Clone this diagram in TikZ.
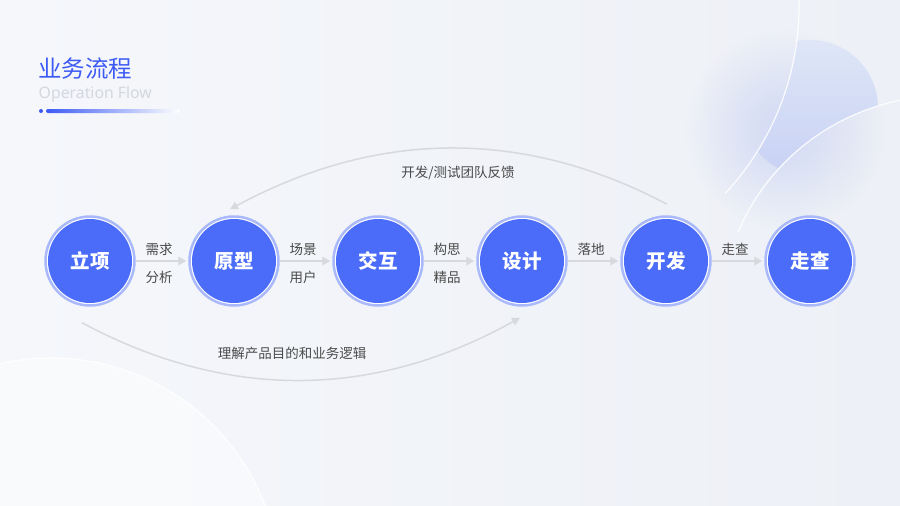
\documentclass[tikz,border=0pt]{standalone}
\usepackage{fontspec}
\setmainfont{Noto Sans}
\newfontfamily\cjk{Noto Sans CJK SC}
\usetikzlibrary{arrows.meta,calc,fadings}
\tikzfading[name=myglow, inner color=transparent!0, outer color=transparent!100]
\definecolor{bgA}{HTML}{F5F7FB}
\definecolor{bgB}{HTML}{EDF0F6}
\definecolor{titleblue}{HTML}{3D5BF4}
\definecolor{subgray}{HTML}{D4D7DD}
\definecolor{nodeblue}{HTML}{4A6CF8}
\definecolor{ringblue}{HTML}{A9B9FB}
\definecolor{textgray}{HTML}{4A4A4A}
\definecolor{arrowgray}{HTML}{D8D9DD}
\definecolor{glowblue}{HTML}{C9D2F3}
\definecolor{circTop}{HTML}{DEE6F7}
\definecolor{circBot}{HTML}{C8D1F4}
\begin{document}
\begin{tikzpicture}[x=1pt,y=-1pt,
  stepnode/.style={circle, minimum size=89, inner sep=0, draw=ringblue, line width=2.5,
    fill=white,
    path picture={\fill[nodeblue] (path picture bounding box.center) circle (42);},
    text=white, font=\cjk\bfseries\fontsize{19.5}{20}\selectfont},
  edgelabel/.style={inner sep=0, text=textgray, font=\cjk\fontsize{13.5}{14}\selectfont},
  flowarrow/.style={draw=arrowgray, line width=2, shorten >=2,
    -{Triangle[length=8,width=8.5]}},
  curvearrow/.style={draw=arrowgray, line width=1.5,
    -{Triangle[length=8,width=8]}},
]
\useasboundingbox (0,0) rectangle (900,506);
\shade[left color=bgA, right color=bgB] (0,0) rectangle (900,506);

% bottom-left decorative circle
\begin{scope}
  \clip (0,0) rectangle (900,506);
  \fill[white, opacity=0.45] (51,587) circle (229);
  \draw[white, line width=1.2, opacity=0.9] (51,587) circle (229);
\end{scope}

% top-right decoration
\fill[glowblue, opacity=0.8, path fading=myglow] (785,130) circle (100);
\begin{scope}[even odd rule]
  \clip (-10,-10) rectangle (910,516) (524,6) circle (275);
  \clip (-10,-10) rectangle (910,516) (944,320) circle (224);
  \shade[top color=circTop, bottom color=circBot] (810,108) circle (68);
\end{scope}
\draw[white, line width=1.2, opacity=0.9] (524,6) ++(-10:275) arc[start angle=-10, end angle=43, radius=275];
\draw[white, line width=1.2, opacity=0.9] (944,320) ++(203:224) arc[start angle=203, end angle=272, radius=224];

% title
\node[anchor=base west, inner sep=0, text=titleblue, font=\cjk\fontsize{23.5}{26}\selectfont] (title) at (38,77.5) {业务流程};
\node[anchor=base west, inner sep=0, text=subgray, font=\fontsize{15.8}{18}\selectfont] (sub) at (38.5,98) {Operation Flow};
\fill[titleblue] (41,111) circle (2);
\shade[left color=titleblue, right color=white, rounded corners=2] (46,109) rectangle (180,113);

% nodes
\node[stepnode] (n1) at (90,261) {立项};
\node[stepnode] (n2) at (234,261) {原型};
\node[stepnode] (n3) at (378,261) {交互};
\node[stepnode] (n4) at (522,261) {设计};
\node[stepnode] (n5) at (666,261) {开发};
\node[stepnode] (n6) at (810,261) {走查};

% straight connectors
\draw[flowarrow] (n1) -- node[edgelabel, midway, xshift=-3, yshift=12] (t1a) {需求}
  node[edgelabel, midway, xshift=-3, yshift=-16] (t1b) {分析} (n2);
\draw[flowarrow] (n2) -- node[edgelabel, midway, xshift=-3, yshift=12] (t2a) {场景}
  node[edgelabel, midway, xshift=-3, yshift=-16] (t2b) {用户} (n3);
\draw[flowarrow] (n3) -- node[edgelabel, midway, xshift=-3, yshift=12] (t3a) {构思}
  node[edgelabel, midway, xshift=-3, yshift=-16] (t3b) {精品} (n4);
\draw[flowarrow] (n4) -- node[edgelabel, midway, xshift=-3, yshift=12] (t4a) {落地} (n5);
\draw[flowarrow] (n5) -- node[edgelabel, midway, xshift=-3, yshift=12] (t5a) {走查} (n6);

% curved connectors
\draw[curvearrow] ($(n5.north)+(1,-11)$) .. controls (523,128) and (377,130) .. ($(n2.north)+(-4,-6)$);
\node[edgelabel] (fb) at (458,173) {开发/测试团队反馈};
\draw[curvearrow] ($(n1.south)+(-8,16)$) .. controls (228,401) and (374,399) .. ($(n4.south)+(-2,11)$);
\node[edgelabel] (lg) at (292,353) {理解产品目的和业务逻辑};
\end{tikzpicture}
\end{document}
